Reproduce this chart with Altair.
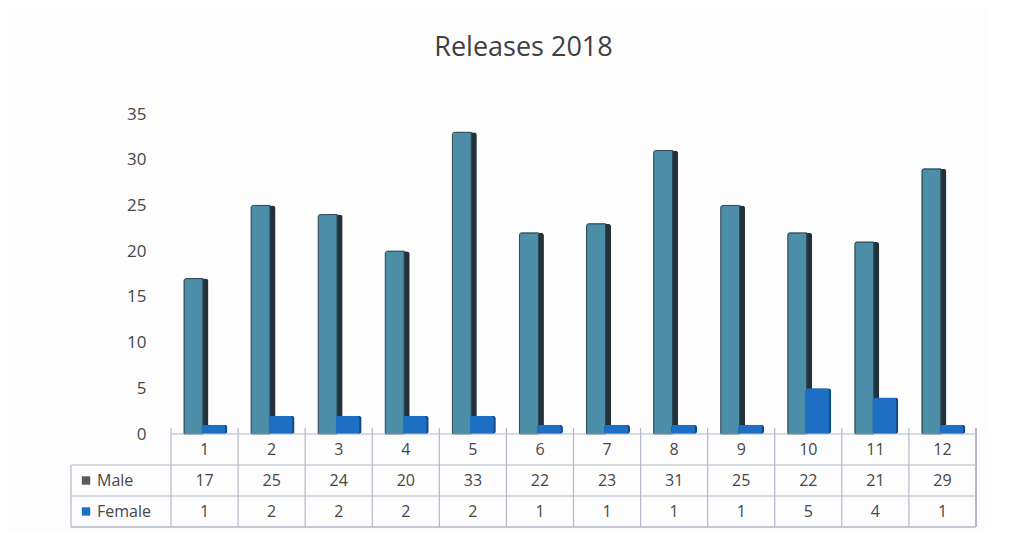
import altair as alt
import pandas as pd

months = [str(i) for i in range(1, 13)]
male = [17, 25, 24, 20, 33, 22, 23, 31, 25, 22, 21, 29]
female = [1, 2, 2, 2, 2, 1, 1, 1, 1, 5, 4, 1]
series = ["Male", "Female"]
y_ticks = [0, 5, 10, 15, 20, 25, 30, 35]
title_text = "Releases 2018"

W, H, TH = 805, 320, 93
FONT = "Open Sans"
TXT = "#474747"
LINE = "#b4b8c8"

bars_df = pd.DataFrame({
    "month": months * 2,
    "series": ["Male"] * 12 + ["Female"] * 12,
    "value": male + female,
})

xenc = alt.X("month:N", sort=months,
             scale=alt.Scale(paddingInner=0, paddingOuter=0), axis=None)
yenc = alt.Y("value:Q", scale=alt.Scale(domain=[0, 35]),
             axis=alt.Axis(values=y_ticks, title=None, domain=False, ticks=False,
                           grid=False, labelFontSize=17, labelColor=TXT,
                           labelFont=FONT, labelPadding=25))

base = alt.Chart(bars_df)
male_side = base.transform_filter(alt.datum.series == "Male").mark_bar(
    width=24, xOffset=-8, color="#22313a", cornerRadiusTopRight=3,
    cornerRadiusTopLeft=3
).encode(x=xenc, y=yenc)
male_bars = base.transform_filter(alt.datum.series == "Male").mark_bar(
    width=19, xOffset=-11, color="#4c8ea7", stroke="#2e4955", strokeWidth=1,
    cornerRadiusTopLeft=2
).encode(x=xenc, y=yenc)
female_side = base.transform_filter(alt.datum.series == "Female").mark_bar(
    width=26, xOffset=10, color="#124a86", cornerRadius=3
).encode(x=xenc, y=yenc)
female_bars = base.transform_filter(alt.datum.series == "Female").mark_bar(
    width=24, xOffset=9, color="#1d6fc4", cornerRadius=3
).encode(x=xenc, y=yenc)

bars = alt.layer(male_side, male_bars, female_side, female_bars).properties(
    width=W, height=H)

# data table
rows = ["hdr"] + series
tbl_rows = []
for i, m in enumerate(months):
    tbl_rows.append({"month": m, "row": "hdr", "val": m})
    tbl_rows.append({"month": m, "row": "Male", "val": str(male[i])})
    tbl_rows.append({"month": m, "row": "Female", "val": str(female[i])})
tbl_df = pd.DataFrame(tbl_rows)
series_df = pd.DataFrame({"row": series})
months_df = pd.DataFrame({"month": months})

tx = alt.X("month:N", sort=months,
           scale=alt.Scale(paddingInner=0, paddingOuter=0), axis=None)
rscale = alt.Scale(domain=rows, paddingInner=0, paddingOuter=0)
ty = alt.Y("row:N", sort=rows, scale=rscale, axis=None)
ty0 = alt.Y("row:N", sort=rows, bandPosition=0, scale=rscale, axis=None)

cells = alt.Chart(tbl_df).mark_text(fontSize=16, color=TXT, font=FONT).encode(
    x=tx, y=ty, text="val:N")

vlines = alt.Chart(months_df).mark_rule(color=LINE, strokeWidth=1.2).encode(
    x=alt.X("month:N", sort=months, bandPosition=0,
            scale=alt.Scale(paddingInner=0, paddingOuter=0), axis=None),
    y=alt.value(-6), y2=alt.value(TH))
right_line = alt.Chart(months_df).mark_rule(color=LINE, strokeWidth=1.2).encode(
    x=alt.value(W), y=alt.value(-6), y2=alt.value(TH))
hdr_top = alt.Chart(pd.DataFrame({"row": ["hdr"]})).mark_rule(
    color=LINE, strokeWidth=1.2).encode(y=ty0, x=alt.value(0), x2=alt.value(W))
row_lines = alt.Chart(series_df).mark_rule(color=LINE, strokeWidth=1.2).encode(
    y=ty0, x=alt.value(-100), x2=alt.value(W))
bottom_line = alt.Chart(series_df).mark_rule(color=LINE, strokeWidth=1.2).encode(
    y=alt.value(TH), x=alt.value(-100), x2=alt.value(W))
left_line = alt.Chart(pd.DataFrame({"row": ["Male"]})).mark_rule(
    color=LINE, strokeWidth=1.2).encode(y=ty0, y2=alt.value(TH), x=alt.value(-100))
labels = alt.Chart(series_df).mark_text(fontSize=16, color=TXT, font=FONT,
                                        align="left").encode(
    x=alt.value(-74), y=ty, text="row:N")
squares = alt.Chart(series_df).mark_square(size=70, opacity=1).encode(
    x=alt.value(-85), y=ty,
    color=alt.Color("row:N", scale=alt.Scale(domain=series, range=["#5a5a5a", "#1d6fc4"]),
                    legend=None))

table = alt.layer(vlines, right_line, hdr_top, row_lines, bottom_line, left_line,
                  cells, labels, squares).properties(width=W, height=TH)

chart = alt.vconcat(bars, table, spacing=0, bounds="flush").properties(
    title=alt.TitleParams(title_text, fontSize=27, font=FONT, color="#404040",
                          fontWeight="normal", anchor="middle", offset=43),
    padding={"left": 62, "top": 26, "right": 10, "bottom": 5},
    background="#fdfdfe",
).configure_view(stroke=None).resolve_scale(color="independent")

chart.save("out.html", embed_options={"renderer": "svg", "actions": False})
